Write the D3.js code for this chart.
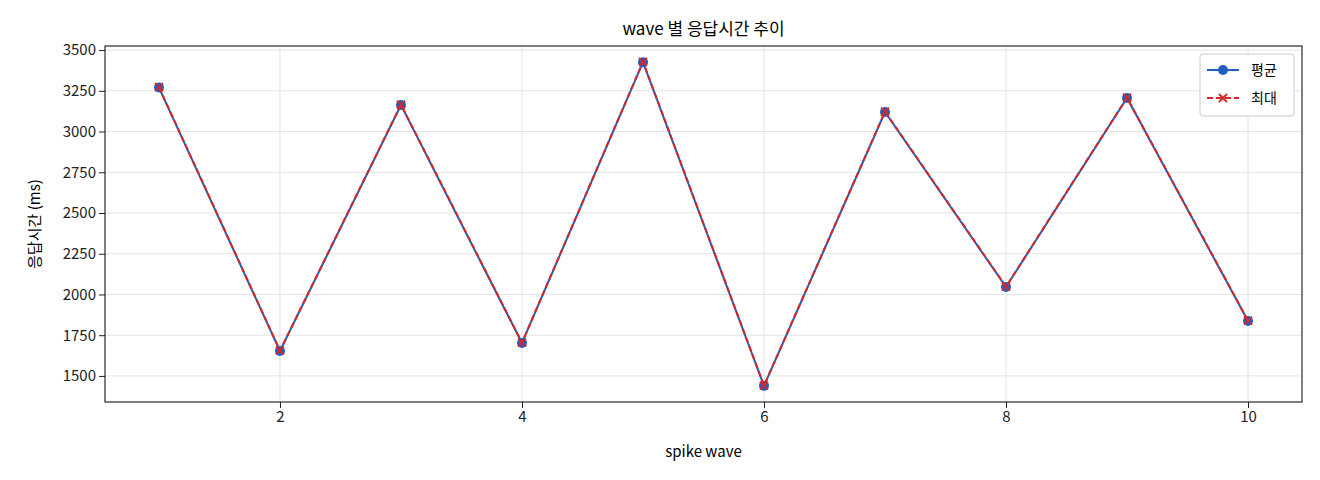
<!DOCTYPE html>
<html><head><meta charset="utf-8">
<script src="https://cdn.jsdelivr.net/npm/d3@7"></script>
<style>
body{margin:0;background:#fff;font-family:"Noto Sans CJK KR","DejaVu Sans",sans-serif;}
text{font-family:"Noto Sans CJK KR","DejaVu Sans",sans-serif;}
</style></head>
<body><svg id="c" width="1320" height="480"></svg>
<script>
var waves = [1,2,3,4,5,6,7,8,9,10];
var avgMs = [3270,1653,3163,1702,3426,1439,3120,2046,3206,1837];
var maxMs = [3272,1655,3165,1704,3428,1441,3122,2048,3208,1839];
var xTicks = [2,4,6,8,10];
var yTicks = [1500,1750,2000,2250,2500,2750,3000,3250,3500];

var svg = d3.select("#c");
var L=105,R=1302,T=46,B=402;
var x = d3.scaleLinear().domain([0.554,10.446]).range([L,R]);
var y = d3.scaleLinear().domain([1340,3525]).range([B,T]);

// grid
svg.append("g").selectAll("line").data(xTicks).join("line")
  .attr("x1",d=>x(d)).attr("x2",d=>x(d)).attr("y1",T).attr("y2",B)
  .attr("stroke","#e3e3e3");
svg.append("g").selectAll("line").data(yTicks).join("line")
  .attr("x1",L).attr("x2",R).attr("y1",d=>y(d)).attr("y2",d=>y(d))
  .attr("stroke","#e3e3e3");

var xa = svg.append("g").attr("transform","translate(0,"+B+")")
  .call(d3.axisBottom(x).tickValues(xTicks).tickFormat(d3.format("d")).tickSizeOuter(0));
var ya = svg.append("g").attr("transform","translate("+L+",0)")
  .call(d3.axisLeft(y).tickValues(yTicks).tickFormat(d3.format("d")).tickSizeOuter(0));
[xa,ya].forEach(function(a){
  a.select(".domain").remove();
  a.selectAll("text").attr("font-size",15).attr("fill","#222");
  a.selectAll("line").attr("stroke","#222");
});
svg.append("rect").attr("x",L).attr("y",T).attr("width",R-L).attr("height",B-T)
  .attr("fill","none").attr("stroke","#000");

var line = d3.line().x((d,i)=>x(waves[i])).y(d=>y(d));
var blue="#1f5fbf", red="#d62728";
svg.append("path").datum(avgMs).attr("d",line).attr("fill","none").attr("stroke",blue).attr("stroke-width",2);
svg.selectAll(".dot").data(avgMs).join("circle").attr("cx",(d,i)=>x(waves[i])).attr("cy",d=>y(d))
  .attr("r",5).attr("fill",blue);
svg.append("path").datum(maxMs).attr("d",line).attr("fill","none").attr("stroke",red)
  .attr("stroke-width",2).attr("stroke-dasharray","6,3");
function cross(g,cx,cy){
  g.append("path").attr("d","M"+(cx-4)+","+(cy-4)+"L"+(cx+4)+","+(cy+4)+"M"+(cx-4)+","+(cy+4)+"L"+(cx+4)+","+(cy-4))
   .attr("stroke",red).attr("stroke-width",1.8);
}
var cg=svg.append("g");
maxMs.forEach(function(d,i){cross(cg,x(waves[i]),y(d));});

svg.append("text").attr("x",(L+R)/2).attr("y",35).attr("text-anchor","middle").attr("font-size",17).text("wave 별 응답시간 추이");
svg.append("text").attr("x",(L+R)/2).attr("y",457).attr("text-anchor","middle").attr("font-size",15).text("spike wave");
svg.append("text").attr("transform","translate(40,"+((T+B)/2)+") rotate(-90)").attr("text-anchor","middle").attr("font-size",15).text("응답시간 (ms)");

// legend
var lg=svg.append("g").attr("transform","translate(1200,54)");
lg.append("rect").attr("width",94).attr("height",62).attr("rx",3).attr("fill","#fff").attr("stroke","#ccc");
lg.append("line").attr("x1",7).attr("x2",39).attr("y1",16).attr("y2",16).attr("stroke",blue).attr("stroke-width",2);
lg.append("circle").attr("cx",23).attr("cy",16).attr("r",5).attr("fill",blue);
lg.append("text").attr("x",51).attr("y",21).attr("font-size",14).text("평균");
lg.append("line").attr("x1",7).attr("x2",39).attr("y1",44).attr("y2",44).attr("stroke",red).attr("stroke-width",2).attr("stroke-dasharray","6,3");
cross(lg,23,44);
lg.append("text").attr("x",51).attr("y",49).attr("font-size",14).text("최대");
</script></body></html>
